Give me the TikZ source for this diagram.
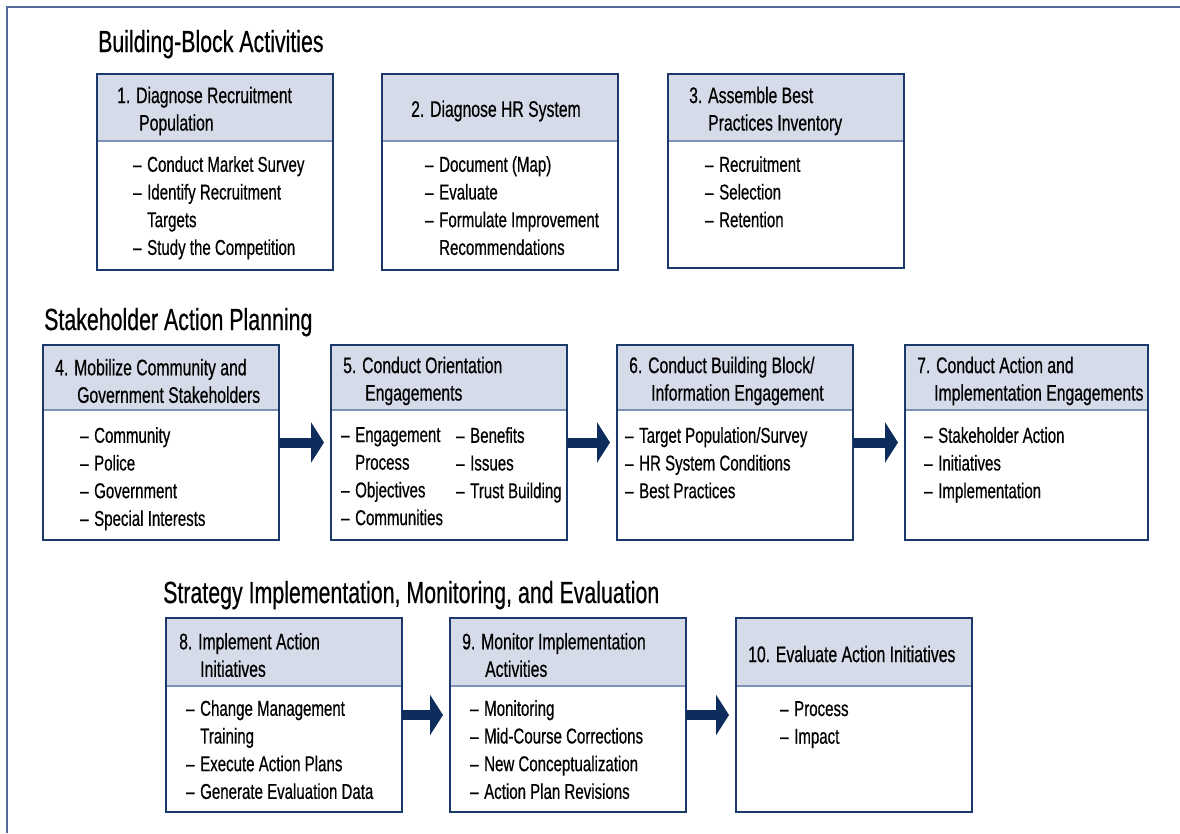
\documentclass[tikz,border=0pt]{standalone}
\usepackage{fontspec}
\setmainfont{Liberation Sans}[FakeStretch=0.70,FakeBold=0.5]
\usetikzlibrary{arrows.meta,positioning}
\definecolor{boxnavy}{RGB}{27,58,107}
\definecolor{headgrey}{RGB}{213,219,232}
\definecolor{seprule}{RGB}{126,146,181}
\definecolor{arrownavy}{RGB}{14,44,92}
\definecolor{framebl}{RGB}{79,106,154}
\newcommand{\itm}[1]{\makebox[14pt][l]{–}#1}
\newcommand{\cnt}[1]{\hspace*{14pt}#1}
\newcommand{\ind}[2][22pt]{\hspace*{#1}#2}

\begin{document}
\begin{tikzpicture}[x=1pt,y=-1pt,
  blk/.style={draw=boxnavy, line width=1.4pt, minimum width=236pt, minimum height=195pt,
    anchor=north west, inner sep=0pt, outer sep=0pt,
    path picture={
      \fill[headgrey] (path picture bounding box.north west) rectangle ([yshift=-#1]path picture bounding box.north east);
      \draw[seprule, line width=2.4pt] ([yshift=-#1]path picture bounding box.north west) -- ([yshift=-#1]path picture bounding box.north east);
    }},
  blk/.default=67pt,
  hdtxt/.style={anchor=west, align=left, inner sep=0pt, font=\fontsize{22.5}{27.5}\selectfont},
  ittxt/.style={anchor=north west, align=left, inner sep=0pt, font=\fontsize{21.5}{27.7}\selectfont},
  sectitle/.style={anchor=base west, inner sep=0pt, font=\fontsize{30.5}{34}\selectfont},
  bigarrow/.style={draw=arrownavy, line width=10pt, -{Triangle[length=13pt,width=40pt]}, shorten >=7pt}]
\useasboundingbox (0,0) rectangle (1180,833);
\draw[framebl, line width=1.5pt] (1180,7) -- (7,7) -- (7,833);

% Building-block row
\node[sectitle] (sec1) at (98,52) {Building-Block Activities};
\node[blk, minimum height=196pt] (box1) at (97,74) {};
\node[blk, minimum height=196pt] (box2) at (382,74) {};
\node[blk, minimum height=194pt] (box3) at (668,74) {};
\node[hdtxt] (hd1) at ([xshift=20pt,yshift=-37pt]box1.north west) {1. Diagnose Recruitment\\\ind{Population}};
\node[hdtxt] (hd2) at ([xshift=29pt,yshift=-37pt]box2.north west) {2. Diagnose HR System};
\node[hdtxt] (hd3) at ([xshift=21pt,yshift=-37pt]box3.north west) {3. Assemble Best\\\ind[19pt]{Practices Inventory}};
\node[ittxt] (it1) at ([xshift=36pt,yshift=-82pt]box1.north west)
  {\itm{Conduct Market Survey}\\\itm{Identify Recruitment}\\\cnt{Targets}\\\itm{Study the Competition}};
\node[ittxt] (it2) at ([xshift=43pt,yshift=-82pt]box2.north west)
  {\itm{Document (Map)}\\\itm{Evaluate}\\\itm{Formulate Improvement}\\\cnt{Recommendations}};
\node[ittxt] (it3) at ([xshift=37pt,yshift=-82pt]box3.north west)
  {\itm{Recruitment}\\\itm{Selection}\\\itm{Retention}};

% Stakeholder row
\node[sectitle] (sec2) at (44,330) {Stakeholder Action Planning};
\node[blk=65pt] (box4) at (43,345) {};
\node[blk=65pt] (box5) at (331,345) {};
\node[blk=65pt] (box6) at (617,345) {};
\node[blk=65pt, minimum width=243pt] (box7) at (905,345) {};
\node[hdtxt] (hd4) at ([xshift=12pt,yshift=-36pt]box4.north west) {4. Mobilize Community and\\\ind{Government Stakeholders}};
\node[hdtxt] (hd5) at ([xshift=12pt,yshift=-36pt]box5.north west) {5. Conduct Orientation\\\ind{Engagements}};
\node[hdtxt] (hd6) at ([xshift=12pt,yshift=-36pt]box6.north west) {6. Conduct Building Block/\\\ind{Information Engagement}};
\node[hdtxt] (hd7) at ([xshift=12pt,yshift=-36pt]box7.north west) {7. Conduct Action and\\\ind[17pt]{Implementation Engagements}};
\node[ittxt] (it4) at ([xshift=37pt,yshift=-82pt]box4.north west)
  {\itm{Community}\\\itm{Police}\\\itm{Government}\\\itm{Special Interests}};
\node[ittxt] (it5a) at ([xshift=10pt,yshift=-82pt]box5.north west)
  {\itm{Engagement}\\\cnt{Process}\\\itm{Objectives}\\\itm{Communities}};
\node[ittxt] (it5b) at ([xshift=125pt,yshift=-82pt]box5.north west)
  {\itm{Benefits}\\\itm{Issues}\\\itm{Trust Building}};
\node[ittxt] (it6) at ([xshift=8pt,yshift=-82pt]box6.north west)
  {\itm{Target Population/Survey}\\\itm{HR System Conditions}\\\itm{Best Practices}};
\node[ittxt] (it7) at ([xshift=19pt,yshift=-82pt]box7.north west)
  {\itm{Stakeholder Action}\\\itm{Initiatives}\\\itm{Implementation}};

% Strategy row
\node[sectitle] (sec3) at (163,603) {Strategy Implementation, Monitoring, and Evaluation};
\node[blk=68pt, minimum height=194pt] (box8) at (166,618) {};
\node[blk=68pt, minimum height=194pt] (box9) at (450,618) {};
\node[blk=68pt, minimum height=194pt] (box10) at (736,618) {};
\node[hdtxt] (hd8) at ([xshift=13pt,yshift=-37pt]box8.north west) {8. Implement Action\\\ind[21pt]{Initiatives}};
\node[hdtxt] (hd9) at ([xshift=12pt,yshift=-37pt]box9.north west) {9. Monitor Implementation\\\ind[23pt]{Activities}};
\node[hdtxt] (hd10) at ([xshift=12pt,yshift=-36pt]box10.north west) {10. Evaluate Action Initiatives};
\node[ittxt] (it8) at ([xshift=20pt,yshift=-82pt]box8.north west)
  {\itm{Change Management}\\\cnt{Training}\\\itm{Execute Action Plans}\\\itm{Generate Evaluation Data}};
\node[ittxt] (it9) at ([xshift=20pt,yshift=-82pt]box9.north west)
  {\itm{Monitoring}\\\itm{Mid-Course Corrections}\\\itm{New Conceptualization}\\\itm{Action Plan Revisions}};
\node[ittxt] (it10) at ([xshift=44pt,yshift=-83pt]box10.north west)
  {\itm{Process}\\\itm{Impact}};

% Flow arrows
\foreach \a/\b in {box4/box5, box5/box6, box6/box7, box8/box9, box9/box10}
  \draw[bigarrow] (\a) -- (\b);
\end{tikzpicture}
\end{document}
